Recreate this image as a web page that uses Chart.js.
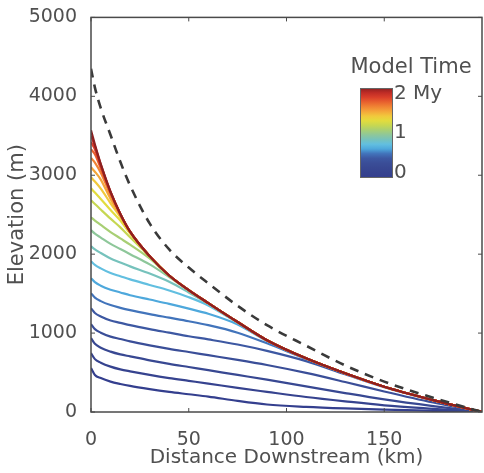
<!DOCTYPE html>
<html>
<head>
<meta charset="utf-8">
<script src="https://cdn.jsdelivr.net/npm/chart.js@4.4.1/dist/chart.umd.min.js"></script>
<style>
  html, body { margin: 0; padding: 0; background: #fff; }
  #wrap { width: 484px; height: 473px; position: relative; }
</style>
</head>
<body>
<div id="wrap"><canvas id="c"></canvas></div>
<script>
const distanceKm = [0, 2, 5, 10, 15, 20, 30, 40, 50, 60, 75, 90, 110, 130, 150, 175, 200];

// dashed reference profile
const dashedProfile = [4350, 4110, 3850, 3510, 3170, 2870, 2390, 2060, 1830, 1630, 1345, 1100, 840, 590, 385, 180, 0];

// river profiles, one per model time step (m)
const elev01 = [557, 470, 430, 385, 355, 330, 290, 255, 225, 195, 140, 95, 65, 45, 30, 15, 0];
const elev02 = [747, 670, 625, 575, 540, 515, 470, 430, 395, 360, 305, 255, 190, 135, 85, 40, 0];
const elev03 = [937, 865, 815, 765, 730, 705, 655, 610, 570, 530, 470, 410, 325, 240, 160, 75, 0];
const elev04 = [1114, 1050, 1005, 955, 925, 895, 845, 800, 760, 720, 660, 595, 495, 380, 260, 120, 0];
const elev05 = [1316, 1255, 1210, 1160, 1130, 1100, 1050, 1005, 960, 920, 855, 775, 645, 478, 315, 148, 0];
const elev06 = [1506, 1450, 1405, 1355, 1320, 1290, 1240, 1195, 1150, 1100, 1005, 870, 672, 488, 320, 150, 0];
const elev07 = [1696, 1645, 1600, 1550, 1515, 1480, 1425, 1370, 1310, 1245, 1110, 900, 680, 490, 320, 150, 0];
const elev08 = [1911, 1865, 1820, 1760, 1720, 1680, 1610, 1540, 1455, 1350, 1130, 908, 680, 490, 320, 150, 0];
const elev09 = [2101, 2060, 2015, 1945, 1895, 1845, 1755, 1650, 1515, 1372, 1138, 910, 680, 490, 320, 150, 0];
const elev10 = [2304, 2260, 2210, 2130, 2065, 2000, 1870, 1710, 1540, 1378, 1140, 910, 680, 490, 320, 150, 0];
const elev11 = [2468, 2425, 2370, 2280, 2200, 2120, 1945, 1725, 1545, 1380, 1140, 910, 680, 490, 320, 150, 0];
const elev12 = [2684, 2635, 2565, 2450, 2340, 2215, 1970, 1730, 1545, 1380, 1140, 910, 680, 490, 320, 150, 0];
const elev13 = [2835, 2780, 2700, 2560, 2425, 2260, 1975, 1730, 1545, 1380, 1140, 910, 680, 490, 320, 150, 0];
const elev14 = [2975, 2920, 2830, 2645, 2470, 2275, 1975, 1730, 1545, 1380, 1140, 910, 680, 490, 320, 150, 0];
const elev15 = [3100, 3045, 2945, 2700, 2490, 2283, 1975, 1730, 1545, 1380, 1140, 910, 680, 490, 320, 150, 0];
const elev16 = [3220, 3160, 3030, 2750, 2500, 2285, 1975, 1730, 1545, 1380, 1140, 910, 680, 490, 320, 150, 0];
const elev17 = [3330, 3265, 3085, 2775, 2508, 2285, 1975, 1730, 1545, 1380, 1140, 910, 680, 490, 320, 150, 0];
const elev18 = [3420, 3330, 3115, 2785, 2510, 2285, 1975, 1730, 1545, 1380, 1140, 910, 680, 490, 320, 150, 0];
const elev19 = [3500, 3370, 3135, 2788, 2510, 2285, 1975, 1730, 1545, 1380, 1140, 910, 680, 490, 320, 150, 0];
const elev20 = [3570, 3390, 3140, 2790, 2510, 2285, 1975, 1730, 1545, 1380, 1140, 910, 680, 490, 320, 150, 0];

const modelTimeMy = [0.1, 0.2, 0.3, 0.4, 0.5, 0.6, 0.7, 0.8, 0.9, 1.0, 1.1, 1.2, 1.3, 1.4, 1.5, 1.6, 1.7, 1.8, 1.9, 2.0];
const profiles = [elev01, elev02, elev03, elev04, elev05, elev06, elev07, elev08, elev09, elev10,
                  elev11, elev12, elev13, elev14, elev15, elev16, elev17, elev18, elev19, elev20];

const colorbarLabels = ['0', '1', '2 My'];

// jet-like palette, one per time step
const timeColors = [
  '#343f8e', '#36438f', '#384892', '#3a4e98', '#3d58a2',
  '#4274bb', '#4ea8dc', '#62bfe0', '#76c2bc', '#8ec79a',
  '#a8cf74', '#c6d752', '#e2dc3e', '#f1c93c', '#f4a63a',
  '#f08434', '#e8612e', '#da3f2a', '#bf2c26', '#8c2020'
];

const TEXT = '#505050';
const FONT = '"DejaVu Sans", sans-serif';

const toPoints = (ys) => ys.map((y, i) => ({ x: distanceKm[i], y }));

const datasets = profiles.map((p, i) => ({
  label: `${modelTimeMy[i]} My`,
  data: toPoints(p),
  borderColor: timeColors[i],
  borderWidth: 2.2,
  pointRadius: 0,
  cubicInterpolationMode: 'monotone',
  fill: false,
  order: profiles.length - i,
}));

datasets.push({
  label: 'initial',
  data: toPoints(dashedProfile),
  borderColor: '#3a3a3a',
  borderWidth: 2.6,
  borderDash: [9, 7],
  pointRadius: 0,
  cubicInterpolationMode: 'monotone',
  fill: false,
  order: -1,
});

// box + inward tick marks, matlab style
const framePlugin = {
  id: 'frame',
  afterDatasetsDraw(chart) {
    const { ctx, chartArea: a, scales } = chart;
    ctx.save();
    ctx.strokeStyle = '#4a4a4a';
    ctx.lineWidth = 1.5;
    ctx.strokeRect(a.left, a.top, a.right - a.left, a.bottom - a.top);
    ctx.lineWidth = 1;
    ctx.beginPath();
    scales.x.ticks.forEach((t) => {
      const px = scales.x.getPixelForValue(t.value);
      ctx.moveTo(px, a.bottom); ctx.lineTo(px, a.bottom - 4);
      ctx.moveTo(px, a.top); ctx.lineTo(px, a.top + 4);
    });
    scales.y.ticks.forEach((t) => {
      const py = scales.y.getPixelForValue(t.value);
      ctx.moveTo(a.left, py); ctx.lineTo(a.left + 4, py);
      ctx.moveTo(a.right, py); ctx.lineTo(a.right - 4, py);
    });
    ctx.stroke();
    ctx.restore();
  },
};

// colour bar for model time
const colorbarPlugin = {
  id: 'colorbar',
  afterDraw(chart) {
    const { ctx } = chart;
    const x = 360, y = 88, w = 32, h = 89;
    ctx.save();
    const g = ctx.createLinearGradient(0, y + h, 0, y);
    const n = timeColors.length;
    timeColors.forEach((c, i) => g.addColorStop(i / (n - 1), c));
    ctx.fillStyle = g;
    ctx.fillRect(x, y, w, h);
    ctx.strokeStyle = '#666';
    ctx.lineWidth = 1;
    ctx.strokeRect(x + 0.5, y + 0.5, w, h);

    ctx.fillStyle = TEXT;
    ctx.font = `21px ${FONT}`;
    ctx.textAlign = 'center';
    ctx.textBaseline = 'middle';
    ctx.fillText('Model Time', 411, 68);
    ctx.font = `20px ${FONT}`;
    ctx.textAlign = 'left';
    ctx.fillText(colorbarLabels[2], x + w + 2, y + 6);
    ctx.fillText(colorbarLabels[1], x + w + 2, y + h / 2);
    ctx.fillText(colorbarLabels[0], x + w + 2, y + h - 4);
    ctx.restore();
  },
};

new Chart(document.getElementById('c'), {
  type: 'line',
  data: { datasets },
  plugins: [framePlugin, colorbarPlugin],
  options: {
    responsive: true,
    maintainAspectRatio: false,
    animation: false,
    layout: { padding: { top: 17, right: 2, left: 0, bottom: 0 } },
    plugins: { legend: { display: false }, tooltip: { enabled: false } },
    scales: {
      x: {
        type: 'linear',
        min: 0,
        max: 200,
        grid: { display: false },
        border: { display: false },
        afterFit: (s) => { s.height = 61; },
        afterBuildTicks: (s) => { s.ticks = s.ticks.filter((t) => t.value < 200); },
        ticks: {
          stepSize: 50,
          padding: 9,
          color: TEXT,
          font: { family: FONT, size: 19 },
          callback: (v) => String(v),
        },
        title: {
          display: true,
          text: 'Distance Downstream (km)',
          color: TEXT,
          font: { family: FONT, size: 20 },
          padding: { top: 0, bottom: 3 },
        },
      },
      y: {
        min: 0,
        max: 5000,
        grid: { display: false },
        border: { display: false },
        afterFit: (s) => { s.width = 91; },
        ticks: {
          stepSize: 1000,
          padding: 6,
          color: TEXT,
          font: { family: FONT, size: 19 },
          callback: (v) => String(v),
        },
        title: {
          display: true,
          text: 'Elevation (m)',
          color: TEXT,
          font: { family: FONT, size: 21 },
          padding: { top: 5, bottom: 0 },
        },
      },
    },
  },
});
</script>
</body>
</html>
